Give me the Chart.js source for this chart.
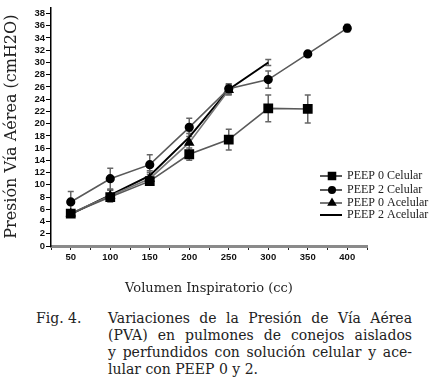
<!DOCTYPE html>
<html>
<head>
<meta charset="utf-8">
<script src="https://cdn.jsdelivr.net/npm/chart.js@4.4.0/dist/chart.umd.min.js"></script>
<style>
  html, body { margin: 0; padding: 0; background: #fff; }
  #wrap { width: 434px; height: 385px; position: relative; overflow: hidden; }
  #chart { position: absolute; left: 0; top: 0; }
  .caption { position: absolute; font-family: 'DejaVu Serif', serif; font-size: 14px; color: #222; }
  #fig { left: 36px; top: 310px; line-height: 17px; }
  #text { left: 108px; top: 310px; width: 304px; line-height: 17px; }
  #text div { text-align: justify; text-align-last: justify; white-space: nowrap; }
  #text div.last { text-align-last: left; }
</style>
</head>
<body>
<div id="wrap">
  <canvas id="chart" width="434" height="300"></canvas>
  <div class="caption" id="fig">Fig. 4.</div>
  <div class="caption" id="text">
    <div>Variaciones de la Presión de Vía Aérea</div>
    <div>(PVA) en pulmones de conejos aislados</div>
    <div>y perfundidos con solución celular y ace-</div>
    <div class="last">lular con PEEP 0 y 2.</div>
  </div>
</div>
<script>
// volumen inspiratorio (cc)
const volumen = [50, 100, 150, 200, 250, 300, 350, 400];

const peep0Celular = [5.3, 8.0, 10.6, 15.0, 17.4, 22.5, 22.4];
const peep0CelularErr = [0.5, 0.5, 0.5, 1.0, 1.7, 2.2, 2.3];

const peep2Celular = [7.2, 11.0, 13.3, 19.4, 25.7, 27.2, 31.4, 35.6];
const peep2CelularErr = [1.7, 1.7, 1.6, 1.5, 0.8, 1.4, 0.4, 0.6];

const peep0Acelular = [5.3, 8.2, 11.0, 16.9, 25.5];
const peep0AcelularErr = [0.5, 1.0, 1.0, 1.5, 0.8];

const peep2Acelular = [5.2, 8.3, 11.5, 17.8, 25.6, 30.0];
const peep2AcelularErr = [0.4, 0.8, 0.8, 1.0, 0.8, 0.5];

const labels = ['PEEP 0 Celular', 'PEEP 2 Celular', 'PEEP 0 Acelular', 'PEEP 2 Acelular'];

function toPoints(values) {
  return values.map((v, i) => ({ x: volumen[i], y: v }));
}

// vertical error bars with caps
const errorBars = {
  id: 'errorBars',
  beforeDatasetsDraw(chart) {
    const ctx = chart.ctx;
    const ys = chart.scales.y;
    chart.data.datasets.forEach((ds, di) => {
      const meta = chart.getDatasetMeta(di);
      ctx.save();
      ctx.strokeStyle = '#666';
      ctx.lineWidth = 1.5;
      meta.data.forEach((pt, i) => {
        const e = ds.errors[i];
        if (!e) return;
        const v = ds.data[i].y;
        const top = ys.getPixelForValue(v + e);
        const bot = ys.getPixelForValue(v - e);
        ctx.beginPath();
        ctx.moveTo(pt.x, top); ctx.lineTo(pt.x, bot);
        ctx.moveTo(pt.x - 3, top); ctx.lineTo(pt.x + 3, top);
        ctx.moveTo(pt.x - 3, bot); ctx.lineTo(pt.x + 3, bot);
        ctx.stroke();
      });
      ctx.restore();
    });
  }
};

// legend drawn inside the plot, lower right
const sideLegend = {
  id: 'sideLegend',
  afterDraw(chart) {
    const ctx = chart.ctx;
    const x0 = 320, rows = [176, 190, 203, 215];
    ctx.save();
    chart.data.datasets.forEach((ds, i) => {
      const y = rows[i];
      ctx.strokeStyle = ds.borderColor;
      ctx.lineWidth = 2;
      ctx.beginPath();
      ctx.moveTo(x0, y); ctx.lineTo(x0 + 22, y);
      ctx.stroke();
      if (ds.pointStyle !== false) {
        ctx.fillStyle = '#000';
        ctx.strokeStyle = '#000';
        Chart.helpers.drawPoint(ctx, { pointStyle: ds.pointStyle, radius: ds.pointRadius * 0.8, borderWidth: 1 }, x0 + 12, y);
      }
      ctx.fillStyle = '#222';
      ctx.font = "12px 'Liberation Serif', 'Times New Roman', serif";
      ctx.textBaseline = 'middle';
      ctx.fillText(ds.label, x0 + 27, y);
    });
    ctx.restore();
  }
};

const tickFont = { family: "'Liberation Sans', Arial, sans-serif", size: 9.5, weight: 'bold' };

new Chart(document.getElementById('chart'), {
  type: 'line',
  data: {
    datasets: [
      {
        label: labels[0], data: toPoints(peep0Celular), errors: peep0CelularErr,
        borderColor: '#5a5a5a', borderWidth: 1.6, pointStyle: 'rect', pointRadius: 5.8,
        pointBackgroundColor: '#000', pointBorderColor: '#000'
      },
      {
        label: labels[1], data: toPoints(peep2Celular), errors: peep2CelularErr,
        borderColor: '#5a5a5a', borderWidth: 1.6, pointStyle: 'circle', pointRadius: 3.8,
        pointBackgroundColor: '#000', pointBorderColor: '#000'
      },
      {
        label: labels[2], data: toPoints(peep0Acelular), errors: peep0AcelularErr,
        borderColor: '#777', borderWidth: 1.6, pointStyle: 'triangle', pointRadius: 4.5,
        pointBackgroundColor: '#000', pointBorderColor: '#000'
      },
      {
        label: labels[3], data: toPoints(peep2Acelular), errors: peep2AcelularErr,
        borderColor: '#000', borderWidth: 2, pointStyle: false, pointRadius: 0
      }
    ]
  },
  options: {
    responsive: false,
    animation: false,
    layout: { padding: { left: 0, right: 67, top: 5, bottom: 0 } },
    plugins: { legend: { display: false }, tooltip: { enabled: false } },
    scales: {
      x: {
        type: 'linear', min: 25, max: 425,
        afterFit(s) { s.height = 54; },
        border: { color: '#8a8a8a', width: 3 },
        grid: { drawOnChartArea: false, tickLength: 4, color: '#222' },
        ticks: {
          stepSize: 25, color: '#111', font: tickFont, padding: 2, maxRotation: 0, autoSkip: false,
          callback: v => (v % 50 === 0 && v >= 50 && v <= 400) ? v : ''
        },
        title: {
          display: true, text: 'Volumen Inspiratorio (cc)', color: '#222',
          font: { family: "'DejaVu Serif', serif", size: 13 }, padding: { top: 8 }
        }
      },
      y: {
        min: 0, max: 39,
        afterFit(s) { s.width = 51; },
        afterBuildTicks(s) { s.ticks = s.ticks.filter(t => t.value % 2 === 0); },
        border: { color: '#000', width: 1.5 },
        grid: { drawOnChartArea: false, tickLength: 5, color: '#000' },
        ticks: { stepSize: 1, color: '#111', font: tickFont, padding: 1, autoSkip: false },
        title: {
          display: true, text: 'Presión Vía Aérea (cmH2O)', color: '#222',
          font: { family: "'DejaVu Serif', serif", size: 16 }, padding: { top: 2, bottom: 0 }
        }
      }
    }
  },
  plugins: [errorBars, sideLegend]
});
</script>
</body>
</html>
